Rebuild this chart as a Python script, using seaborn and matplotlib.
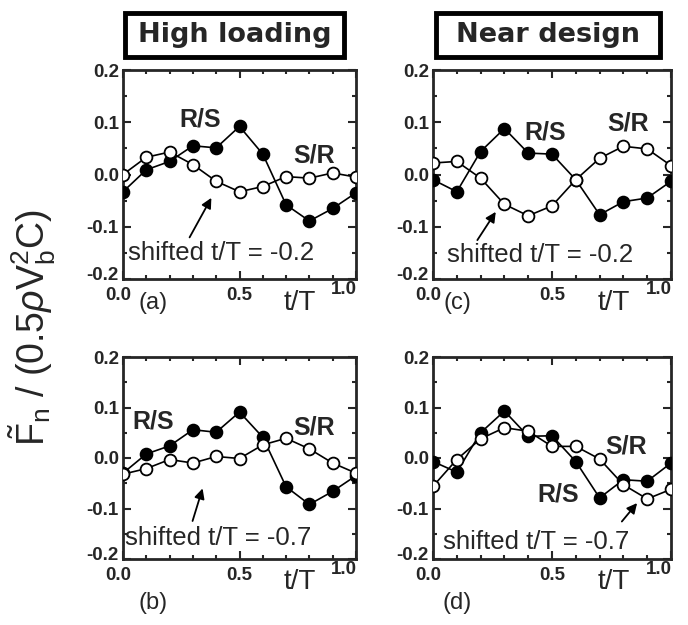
import numpy as np
import pandas as pd
import matplotlib
matplotlib.use("Agg")
import matplotlib.pyplot as plt
import matplotlib.transforms as mtrans
from matplotlib.patches import Rectangle
import seaborn as sns
from matplotlib.ticker import MultipleLocator

sns.set_style("ticks")
plt.rcParams['font.family'] = ['Liberation Sans', 'DejaVu Sans']
plt.rcParams['mathtext.fontset'] = 'custom'
plt.rcParams['mathtext.rm'] = 'Liberation Sans'
plt.rcParams['mathtext.it'] = 'Liberation Sans:italic'

t = [0.0, 0.1, 0.2, 0.3, 0.4, 0.5, 0.6, 0.7, 0.8, 0.9, 1.0]

# (a) High loading, shifted t/T = -0.2
a_rs = [-0.033, 0.009, 0.025, 0.055, 0.051, 0.092, 0.039, -0.058, -0.089, -0.065, -0.035]
a_sr = [0.000, 0.033, 0.043, 0.019, -0.013, -0.033, -0.023, -0.004, -0.007, 0.003, -0.005]
# (b) High loading, shifted t/T = -0.7
b_rs = [-0.030, 0.008, 0.024, 0.056, 0.051, 0.091, 0.041, -0.057, -0.092, -0.066, -0.035]
b_sr = [-0.032, -0.021, -0.003, -0.010, 0.003, -0.001, 0.026, 0.039, 0.018, -0.010, -0.030]
# (c) Near design, shifted t/T = -0.2
c_rs = [-0.010, -0.033, 0.044, 0.088, 0.041, 0.039, -0.010, -0.077, -0.052, -0.045, -0.013]
c_sr = [0.022, 0.025, -0.007, -0.057, -0.079, -0.060, -0.010, 0.031, 0.054, 0.049, 0.017]
# (d) Near design, shifted t/T = -0.7
d_rs = [-0.007, -0.028, 0.050, 0.093, 0.043, 0.044, -0.007, -0.079, -0.043, -0.046, -0.010]
d_sr = [-0.056, -0.003, 0.038, 0.060, 0.053, 0.023, 0.023, -0.002, -0.053, -0.081, -0.062]

yticks = [-0.2, -0.1, 0.0, 0.1, 0.2]
ytick_labels = ["-0.2", "-0.1", "0.0", "0.1", "0.2"]
xticks = [0.0, 0.5, 1.0]
xtick_labels = ["0.0", "0.5", "1.0"]

col_titles = ["High loading", "Near design"]
panel_letters = ["(a)", "(b)", "(c)", "(d)"]
shift_texts = ["shifted t/T = -0.2", "shifted t/T = -0.7", "shifted t/T = -0.2", "shifted t/T = -0.7"]

fig = plt.figure(figsize=(6.88, 6.25), dpi=100)
W, H = 688, 625

def px_axes(l, t_, r, b):
    return fig.add_axes([l / W, 1 - b / H, (r - l) / W, (b - t_) / H])

axes = {
    'a': px_axes(123, 70, 356, 279),
    'b': px_axes(123, 357, 356, 559),
    'c': px_axes(433, 70, 671, 279),
    'd': px_axes(433, 357, 671, 559),
}

panels = {
    'a': (a_rs, a_sr),
    'b': (b_rs, b_sr),
    'c': (c_rs, c_sr),
    'd': (d_rs, d_sr),
}

ann = {
    'a': dict(rs=(0.33, 0.106), sr=(0.82, 0.037), txt=(0.02, -0.15), arr=((0.28, -0.125), (0.385, -0.04)), shift=shift_texts[0]),
    'b': dict(rs=(0.13, 0.073), sr=(0.82, 0.061), txt=(0.01, -0.158), arr=((0.295, -0.13), (0.345, -0.055)), shift=shift_texts[1]),
    'c': dict(rs=(0.47, 0.081), sr=(0.82, 0.098), txt=(0.06, -0.155), arr=((0.18, -0.13), (0.27, -0.067)), shift=shift_texts[2]),
    'd': dict(rs=(0.525, -0.073), sr=(0.81, 0.022), txt=(0.04, -0.166), arr=((0.786, -0.13), (0.865, -0.085)), shift=shift_texts[3]),
}

for key, ax in axes.items():
    rs, sr = panels[key]
    df = pd.DataFrame({'t': t, 'rs': rs, 'sr': sr})
    sns.lineplot(data=df, x='t', y='rs', ax=ax, color='black', lw=1.2,
                 marker='o', markersize=8.5, markerfacecolor='black',
                 markeredgecolor='black', markeredgewidth=1.3, zorder=3)
    sns.lineplot(data=df, x='t', y='sr', ax=ax, color='black', lw=1.2,
                 marker='o', markersize=8.5, markerfacecolor='white',
                 markeredgecolor='black', markeredgewidth=1.3, zorder=4)
    ax.set_xlim(0, 1.0)
    ax.set_ylim(-0.2, 0.2)
    ax.set_xlabel('')
    ax.set_ylabel('')
    ax.set_yticks(yticks)
    ax.set_yticklabels(ytick_labels, fontsize=13.5, fontweight='bold')
    ax.set_xticks(xticks)
    ax.set_xticklabels(xtick_labels, fontsize=13.5, fontweight='bold')
    ax.xaxis.set_minor_locator(MultipleLocator(0.1))
    ax.yaxis.set_minor_locator(MultipleLocator(0.05))
    ax.tick_params(which='both', direction='in', top=True, right=True, width=1.5)
    ax.tick_params(axis='y', which='major', pad=3)
    ax.tick_params(axis='x', which='major', pad=6)
    ax.tick_params(which='major', length=6)
    ax.tick_params(which='minor', length=3)
    ylbl = ax.get_yticklabels()[0]
    ylbl.set_transform(ylbl.get_transform() + mtrans.ScaledTranslation(0, 6 / 100, fig.dpi_scale_trans))
    xl = ax.get_xticklabels()
    xl[0].set_transform(xl[0].get_transform() + mtrans.ScaledTranslation(-5 / 100, 0, fig.dpi_scale_trans))
    xl[-1].set_transform(xl[-1].get_transform() + mtrans.ScaledTranslation(-12 / 100, 6 / 100, fig.dpi_scale_trans))
    for sp in ax.spines.values():
        sp.set_linewidth(2.0)
        sp.set_visible(True)
    a = ann[key]
    ax.text(*a['rs'], 'R/S', fontsize=18, fontweight='bold', ha='center', va='center')
    ax.text(*a['sr'], 'S/R', fontsize=18, fontweight='bold', ha='center', va='center')
    ax.text(*a['txt'], a['shift'], fontsize=18.5, ha='left', va='center')
    ax.annotate('', xy=a['arr'][1], xytext=a['arr'][0],
                arrowprops=dict(arrowstyle='-|>', color='black', lw=1.3, mutation_scale=15))
    ax.text(0.76, -0.245, 't/T', fontsize=20, ha='center', va='center', clip_on=False)

# panel letters
fig.text(153 / W, 1 - 303 / H, "(a)", fontsize=17, ha='center', va='center')
fig.text(153 / W, 1 - 603 / H, "(b)", fontsize=17, ha='center', va='center')
fig.text(457 / W, 1 - 303 / H, "(c)", fontsize=17, ha='center', va='center')
fig.text(457 / W, 1 - 603 / H, "(d)", fontsize=17, ha='center', va='center')

# column titles in framed boxes
title_boxes = [(125, 13, 344, 57), (436, 13, 660, 57)]
for title, (x0, y0, x1, y1) in zip(col_titles, title_boxes):
    fig.add_artist(Rectangle((x0 / W, 1 - y1 / H), (x1 - x0) / W, (y1 - y0) / H,
                             transform=fig.transFigure, facecolor='white',
                             edgecolor='black', linewidth=3.5))
    fig.text((x0 + x1) / 2 / W, 1 - (y0 + y1) / 2 / H, title, fontsize=19.5,
             fontweight='bold', family=['DejaVu Sans'], ha='center', va='center')

# y label
fig.text(32 / W, 1 - 328 / H, r'$\tilde{\mathrm{F}}_{\mathrm{n}}$ / (0.5$\rho$V$_{\mathrm{b}}^{2}$C)',
         fontsize=27, rotation=90, ha='center', va='center')

fig.savefig('out.png', dpi=100)
